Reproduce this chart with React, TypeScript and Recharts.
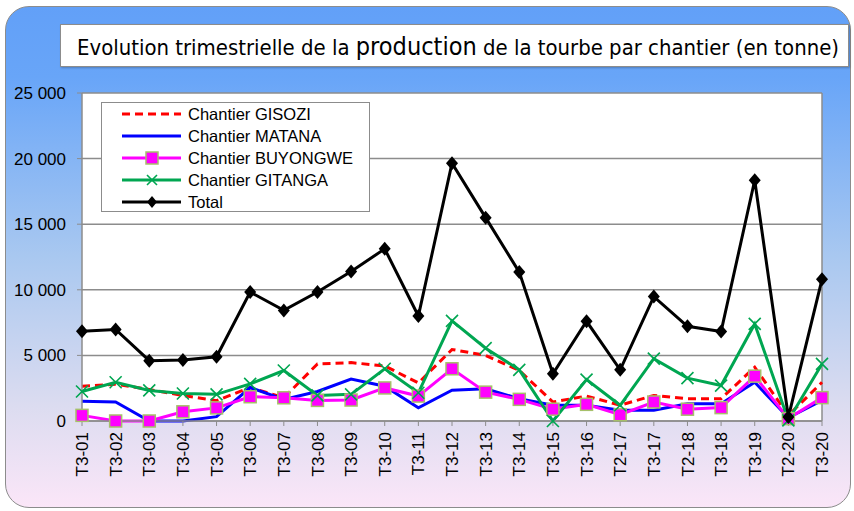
import React from "react";
import {
  LineChart,
  Line,
  XAxis,
  YAxis,
  CartesianGrid,
  ReferenceLine,
  Legend,
} from "recharts";

const categories = [
  "T3-01", "T3-02", "T3-03", "T3-04", "T3-05", "T3-06", "T3-07", "T3-08",
  "T3-09", "T3-10", "T3-11", "T3-12", "T3-13", "T3-14", "T3-15", "T3-16",
  "T2-17", "T3-17", "T2-18", "T3-18", "T3-19", "T2-20", "T3-20",
];

const gisozi = [2650, 2800, 2400, 1950, 1550, 2550, 1770, 4350, 4450, 4200, 2900, 5450, 5000, 3850, 1450, 1900, 1200, 1950, 1700, 1700, 4100, 430, 2950];
const matana = [1500, 1450, 0, 0, 330, 2550, 1650, 2250, 3200, 2650, 1000, 2350, 2450, 1700, 1200, 1200, 820, 820, 1320, 1320, 2950, 250, 1570];
const buyongwe = [430, 0, 0, 700, 1000, 1850, 1770, 1570, 1600, 2520, 1900, 3980, 2200, 1650, 900, 1270, 480, 1450, 900, 1020, 3420, 180, 1780];
const gitanga = [2250, 2950, 2330, 2100, 2030, 2830, 3850, 1950, 2030, 3980, 2150, 7630, 5550, 3900, 0, 3150, 1200, 4750, 3270, 2700, 7400, 50, 4350];
const total = [6840, 6980, 4600, 4650, 4900, 9830, 8430, 9830, 11400, 13120, 8000, 19650, 15500, 11350, 3600, 7600, 3900, 9480, 7220, 6820, 18350, 300, 10800];

const yTicks = [0, 5000, 10000, 15000, 20000, 25000];

const data = categories.map((c, i) => ({
  cat: c,
  gisozi: gisozi[i],
  matana: matana[i],
  buyongwe: buyongwe[i],
  gitanga: gitanga[i],
  total: total[i],
}));

const FONT = '"Liberation Sans", Arial, sans-serif';
const NARROW = '"Liberation Sans Narrow", "DejaVu Sans Condensed", "Liberation Sans", sans-serif';
const GRAY = "#8c8c8c";

const SquareDot = (props: any) => {
  const { cx, cy, index } = props;
  if (cx == null || cy == null) return <g key={index} />;
  return (
    <rect key={index} x={cx - 6} y={cy - 6} width={12} height={12}
      fill="#ff00ff" stroke="#a6c06a" strokeWidth={1.5} />
  );
};

const CrossDot = (props: any) => {
  const { cx, cy, index } = props;
  if (cx == null || cy == null) return <g key={index} />;
  return (
    <path key={index} d={`M${cx - 6},${cy - 6}L${cx + 6},${cy + 6}M${cx - 6},${cy + 6}L${cx + 6},${cy - 6}`}
      stroke="#00a651" strokeWidth={1.6} fill="none" />
  );
};

const DiamondDot = (props: any) => {
  const { cx, cy, index } = props;
  if (cx == null || cy == null) return <g key={index} />;
  return (
    <path key={index} d={`M${cx},${cy - 7}L${cx + 6},${cy}L${cx},${cy + 7}L${cx - 6},${cy}Z`} fill="#000" />
  );
};

const XTick = (props: any) => {
  const { x, y, payload } = props;
  return (
    <text transform={`translate(${x},${y + 4}) rotate(-90)`} textAnchor="end" dy="0.36em"
      fontFamily={FONT} fontSize={17} fill="#000">
      {payload.value}
    </text>
  );
};

const fmt = (v: number) => (v >= 1000 ? `${Math.floor(v / 1000)} ${String(v % 1000).padStart(3, "0")}` : String(v));

const legendItems = [
  { label: "Chantier GISOZI", color: "#ff0000", dash: "8 5", mark: "none" },
  { label: "Chantier MATANA", color: "#0000ff", dash: undefined, mark: "none" },
  { label: "Chantier BUYONGWE", color: "#ff00ff", dash: undefined, mark: "square" },
  { label: "Chantier GITANGA", color: "#00a651", dash: undefined, mark: "cross" },
  { label: "Total", color: "#000000", dash: undefined, mark: "diamond" },
];

const LegendBox = () => (
  <div style={{ background: "#fff", border: `1.5px solid ${GRAY}`, width: 269, height: 110, boxSizing: "border-box" }}>
    {legendItems.map((it) => (
      <div key={it.label} style={{ height: 22, display: "flex", alignItems: "center", marginLeft: 19 }}>
        <svg width={62} height={16} style={{ flex: "none" }}>
          <line x1={1} y1={8} x2={60} y2={8} stroke={it.color} strokeWidth={3} strokeDasharray={it.dash} />
          {it.mark === "square" && <rect x={25} y={2} width={12} height={12} fill="#ff00ff" stroke="#a6c06a" strokeWidth={1.5} />}
          {it.mark === "cross" && <path d="M26,3L36,13M26,13L36,3" stroke="#00a651" strokeWidth={1.6} />}
          {it.mark === "diamond" && <path d="M31,2L36,8L31,14L26,8Z" fill="#000" />}
        </svg>
        <span style={{ fontFamily: FONT, fontSize: 16.5, color: "#000", marginLeft: 5, whiteSpace: "nowrap" }}>{it.label}</span>
      </div>
    ))}
  </div>
);

export default function App() {
  return (
    <div style={{ position: "fixed", left: 0, top: 0, width: 854, height: 511, background: "#fff", overflow: "hidden" }}>
      <div style={{
        position: "absolute", left: 5, top: 6, width: 846, height: 502, boxSizing: "border-box",
        border: `1.5px solid ${GRAY}`, borderRadius: 24,
        background: "linear-gradient(to bottom, #62a0f8 0%, #68a5f8 14%, #a9c8f0 50%, #dcdcf0 80%, #fbe6f8 100%)",
      }} />
      <div style={{
        position: "absolute", left: 60, top: 24, width: 789, height: 43, boxSizing: "border-box",
        background: "#fff", border: `1px solid ${GRAY}`, boxShadow: "1px 1px 2px rgba(0,0,0,0.25)",
      }}>
        <svg width={787} height={41} style={{ display: "block" }}>
          <text x={16} y={30} fontFamily={NARROW} fontSize={21} fill="#000" textLength={762} lengthAdjust="spacingAndGlyphs">
            Evolution trimestrielle de la <tspan fontSize={24}>production</tspan> de la tourbe par chantier (en tonne)
          </text>
        </svg>
      </div>
      <div style={{ position: "absolute", left: 0, top: 0 }}>
        <LineChart width={854} height={511} data={data} margin={{ top: 93, right: 32, left: 12, bottom: 0 }}>
          <CartesianGrid vertical={false} stroke={GRAY} strokeWidth={1.5} fill="#fff" fillOpacity={1} />
          <XAxis dataKey="cat" interval={0} padding={{ left: 0, right: 0 }} height={90}
            axisLine={{ stroke: GRAY, strokeWidth: 1.5 }} tickLine={{ stroke: GRAY }} tickSize={5}
            tick={<XTick />} />
          <YAxis width={70} domain={[0, 25000]} ticks={yTicks} interval={0} tickFormatter={fmt}
            axisLine={{ stroke: GRAY, strokeWidth: 1.5 }} tickLine={{ stroke: GRAY }} tickSize={5} tickMargin={11}
            tick={{ fill: "#000", fontSize: 17, fontFamily: FONT }} />
          <ReferenceLine x="T3-20" stroke={GRAY} strokeWidth={1.5} />
          <Legend layout="vertical" align="center" verticalAlign="middle" content={<LegendBox />}
            wrapperStyle={{ left: 101, top: 102, width: 269, height: 110 }} />
          <Line dataKey="gisozi" stroke="#ff0000" strokeWidth={3} strokeDasharray="8 5" dot={false} isAnimationActive={false} />
          <Line dataKey="matana" stroke="#0000ff" strokeWidth={3} dot={false} isAnimationActive={false} />
          <Line dataKey="buyongwe" stroke="#ff00ff" strokeWidth={3} dot={<SquareDot />} isAnimationActive={false} />
          <Line dataKey="gitanga" stroke="#00a651" strokeWidth={3} dot={<CrossDot />} isAnimationActive={false} />
          <Line dataKey="total" stroke="#000000" strokeWidth={3} dot={<DiamondDot />} isAnimationActive={false} />
        </LineChart>
      </div>
    </div>
  );
}
